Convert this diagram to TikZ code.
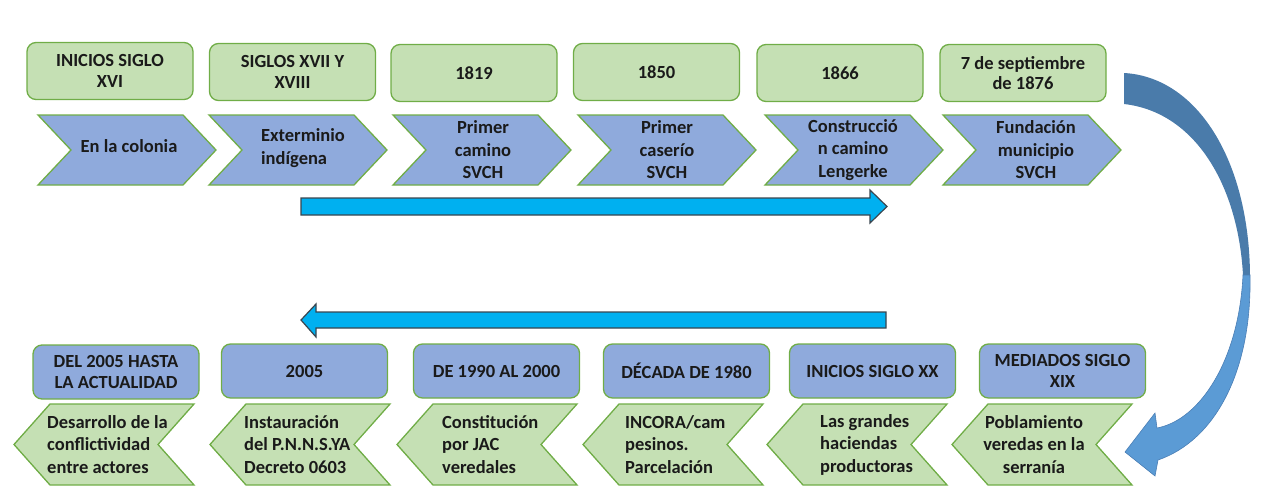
\documentclass[tikz,border=0pt]{standalone}
\usepackage{fontspec}
\setmainfont{Carlito}
\definecolor{gfill}{HTML}{C5E0B4}
\definecolor{gline}{HTML}{70AD47}
\definecolor{bfill}{HTML}{8FAADC}
\definecolor{afill}{HTML}{00B0F0}
\definecolor{aline}{HTML}{3A4650}
\definecolor{cdark}{HTML}{4A7BAA}
\definecolor{clight}{HTML}{5B9BD5}
\definecolor{cedge}{HTML}{4A7EB5}
\definecolor{txt}{HTML}{1A1A1A}
\tikzset{
  datebox/.style={draw=gline, line width=1.3pt, rounded corners=9pt, minimum width=166pt, align=center, text=txt, inner sep=2pt, font=\fontsize{18.5}{20.5}\selectfont\bfseries},
  topdate/.style={datebox, fill=gfill, minimum height=57pt},
  botdate/.style={datebox, fill=bfill, minimum height=54pt},
  topchev/.style={draw=gline, line width=1.3pt, fill=bfill, line join=miter},
  botchev/.style={draw=gline, line width=1.3pt, fill=gfill, line join=miter},
  chevtext/.style={text=txt, font=\fontsize{18.5}{22.5}\selectfont\bfseries, inner sep=0pt},
  blockarrow/.style={fill=afill, draw=aline, line width=1.2pt, line join=miter},
}
\begin{document}
\begin{tikzpicture}[x=1pt,y=-1pt]
\useasboundingbox (0,0) rectangle (1262,501);

% top date boxes
\node[topdate] (d1) at (110,71) {INICIOS SIGLO\\XVI};
\node[topdate] (d2) at (292.5,72) {SIGLOS XVII Y\\XVIII};
\node[topdate] (d3) at (474,73) {1819};
\node[topdate] (d4) at (656.5,72) {1850};
\node[topdate] (d5) at (840,73) {1866};
\node[topdate] (d6) at (1023,73) {7 de septiembre\\de 1876};

% top chevrons
\foreach \L in {38,209,393,578,765,943}
  \draw[topchev] (\L,115) -- ++(145,0) -- ++(33,35) -- ++(-33,35) -- ++(-145,0) -- ++(33,-35) -- cycle;
\node[chevtext, align=center] (t1) at (129,146) {En la colonia};
\node[chevtext, align=left] (t2) at (303,148) {Exterminio\\indígena};
\node[chevtext, align=center] (t3) at (483,150) {Primer\\camino\\SVCH};
\node[chevtext, align=center] (t4) at (667,150) {Primer\\caserío\\SVCH};
\node[chevtext, align=center] (t5) at (853,150) {Construcció\\n camino\\Lengerke};
\node[chevtext, align=center] (t6) at (1036,150) {Fundación\\municipio\\SVCH};

% straight block arrows
\coordinate (ra) at (301,206.5);
\coordinate (la) at (886,320);
\draw[blockarrow] (ra) ++(0,-8.5) -- ++(569,0) -- ++(0,-8) -- ++(17,16.5) -- ++(-17,16.5) -- ++(0,-8) -- ++(-569,0) -- cycle;
\draw[blockarrow] (la) ++(0,-8) -- ++(-570,0) -- ++(0,-8) -- ++(-15,16) -- ++(15,17) -- ++(0,-9) -- ++(570,0) -- cycle;

% curved arrow
\fill[cdark] (1124,73) .. controls (1197,77) and (1249,160) .. (1250,275)
  -- (1243,275) .. controls (1238,185) and (1195,112) .. (1124,104) -- cycle;
\filldraw[fill=clight, draw=cedge, line width=0.6pt, line join=miter]
  (1250,275) .. controls (1252,370) and (1216,440) .. (1158,460)
  -- (1155,476) -- (1125,452) -- (1155,413) -- (1157,428)
  .. controls (1200,420) and (1239,360) .. (1243,275) -- cycle;

% bottom date boxes
\node[botdate] (e1) at (116,372) {DEL 2005 HASTA\\LA ACTUALIDAD};
\node[botdate] (e2) at (304.5,371) {2005};
\node[botdate] (e3) at (496.5,371) {DE 1990 AL 2000};
\node[botdate] (e4) at (686.5,371) {DÉCADA DE 1980};
\node[botdate] (e5) at (872.5,371) {INICIOS SIGLO XX};
\node[botdate] (e6) at (1062.5,371) {MEDIADOS SIGLO\\XIX};

% bottom chevrons
\foreach \T in {14,210,397,583,767,952}
  \draw[botchev] (\T,444.5) -- ++(36,-40.5) -- ++(144,0) -- ++(-36,40.5) -- ++(36,40.5) -- ++(-144,0) -- cycle;
\node[chevtext, align=left, anchor=west] (s1) at (47,444.5) {Desarrollo de la\\conflictividad\\entre actores};
\node[chevtext, align=left, anchor=west] (s2) at (244,444.5) {Instauración\\del P.N.N.S.YA\\Decreto 0603};
\node[chevtext, align=left, anchor=west] (s3) at (442,444.5) {Constitución\\por JAC\\veredales};
\node[chevtext, align=left, anchor=west] (s4) at (625,444.5) {INCORA/cam\\pesinos.\\Parcelación};
\node[chevtext, align=left, anchor=west] (s5) at (820,444.5) {Las grandes\\haciendas\\productoras};
\node[chevtext, align=center] (s6) at (1034,444.5) {Poblamiento\\veredas en la\\serranía};
\end{tikzpicture}
\end{document}
